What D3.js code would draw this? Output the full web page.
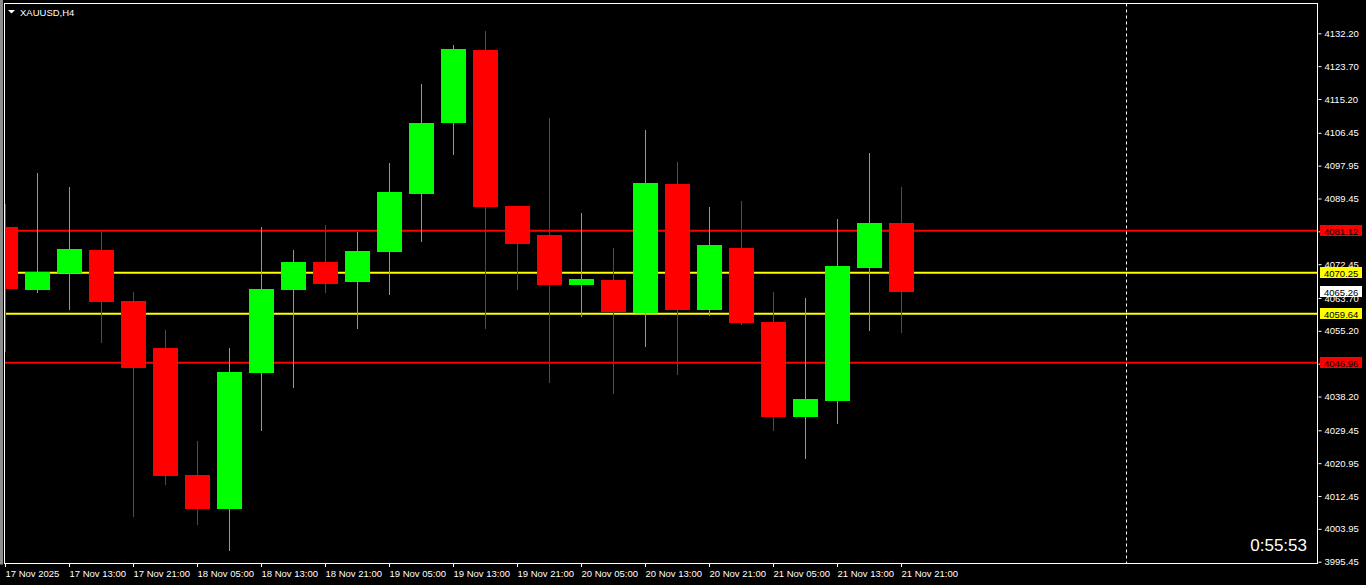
<!DOCTYPE html>
<html><head><meta charset="utf-8">
<script src="https://cdn.jsdelivr.net/npm/d3@7"></script>
<style>html,body{margin:0;padding:0;background:#000;overflow:hidden}</style>
</head><body><svg id="c" width="1366" height="585"></svg>
<script>
// ---------- DATA ----------
const symbol = "XAUUSD,H4";
const times = [
  "17 Nov 05:00","17 Nov 09:00","17 Nov 13:00","17 Nov 17:00","17 Nov 21:00",
  "18 Nov 01:00","18 Nov 05:00","18 Nov 09:00","18 Nov 13:00","18 Nov 17:00","18 Nov 21:00",
  "19 Nov 01:00","19 Nov 05:00","19 Nov 09:00","19 Nov 13:00","19 Nov 17:00","19 Nov 21:00",
  "20 Nov 01:00","20 Nov 05:00","20 Nov 09:00","20 Nov 13:00","20 Nov 17:00","20 Nov 21:00",
  "21 Nov 01:00","21 Nov 05:00","21 Nov 09:00","21 Nov 13:00","21 Nov 17:00","21 Nov 21:00"
];
const open  = [4082.07,4065.84,4070.24,4076.12,4062.92,4050.76,4017.89,4009.09,4044.36,4065.84,4073.01,4067.84,4075.68,4090.69,4109.06,4127.88,4087.51,4080.00,4067.14,4068.35,4059.89,4093.20,4060.67,4076.64,4057.48,4032.98,4037.12,4071.54,4083.11];
const high  = [4088.02,4096.05,4092.42,4081.11,4065.25,4055.41,4026.69,4050.76,4082.07,4076.12,4082.59,4080.78,4098.63,4119.08,4129.17,4132.80,4087.60,4110.28,4085.69,4076.64,4107.17,4098.89,4087.25,4088.80,4065.25,4063.70,4084.14,4101.22,4092.42];
const low   = [4049.80,4065.07,4060.67,4052.13,4007.10,4015.30,4004.95,3998.30,4029.35,4040.48,4065.07,4055.75,4064.47,4078.27,4100.78,4055.75,4065.77,4041.78,4058.86,4038.93,4051.09,4043.85,4059.12,4056.79,4029.35,4022.11,4031.16,4055.23,4054.72];
const close = [4066.03,4070.42,4076.38,4062.74,4045.66,4017.71,4009.09,4044.55,4066.03,4073.01,4067.40,4075.86,4091.13,4108.99,4128.14,4087.32,4077.67,4067.14,4068.61,4060.15,4093.46,4060.67,4077.41,4057.30,4032.98,4037.56,4071.98,4083.11,4065.26];

const priceTicks = [4132.20,4123.70,4115.20,4106.45,4097.95,4089.45,4080.95,4072.45,4063.70,4055.20,4046.70,4038.20,4029.45,4020.95,4012.45,4003.95,3995.45];
const priceMin = 3995.45, priceMax = 4132.20;

const timeTickTimes  = ["17 Nov 05:00","17 Nov 13:00","17 Nov 21:00","18 Nov 05:00","18 Nov 13:00","18 Nov 21:00","19 Nov 05:00","19 Nov 13:00","19 Nov 21:00","20 Nov 05:00","20 Nov 13:00","20 Nov 21:00","21 Nov 05:00","21 Nov 13:00","21 Nov 21:00"];
const timeTickLabels = ["17 Nov 2025","17 Nov 13:00","17 Nov 21:00","18 Nov 05:00","18 Nov 13:00","18 Nov 21:00","19 Nov 05:00","19 Nov 13:00","19 Nov 21:00","20 Nov 05:00","20 Nov 13:00","20 Nov 21:00","21 Nov 05:00","21 Nov 13:00","21 Nov 21:00"];

const levelValues = [4081.12, 4070.25, 4059.64, 4046.96];
const levelColors = ["#ff0000", "#ffff00", "#ffff00", "#ff0000"];
const bidPrice = 4065.26;
const timerText = "0:55:53";
const markerBarsAhead = 7;

// ---------- LAYOUT ----------
const W = 1366, H = 585;
const plot = {left: 4.5, right: 1317.5, top: 3.5, bottom: 563.5};
const barSpacing = 32, firstBarX = 5.5, bodyW = 25;
const FONT = "'Liberation Sans', Arial, sans-serif";

const svg = d3.select("#c");
svg.append("rect").attr("width", W).attr("height", H).attr("fill", "#000");

const n = times.length;
const x = d3.scaleLinear().domain([0, n - 1]).range([firstBarX, firstBarX + barSpacing * (n - 1)]);
const y = d3.scaleLinear().domain([priceMin, priceMax]).range([561.7, 33.3]);

svg.append("defs").append("clipPath").attr("id", "clip")
  .append("rect").attr("x", plot.left + 0.5).attr("y", plot.top + 0.5)
  .attr("width", plot.right - plot.left - 1).attr("height", plot.bottom - plot.top - 1);

const g = svg.append("g").attr("clip-path", "url(#clip)");

// horizontal level lines
g.selectAll("line.level").data(levelValues).join("line")
  .attr("x1", plot.left).attr("x2", plot.right)
  .attr("y1", d => y(d)).attr("y2", d => y(d))
  .attr("stroke", (d, i) => levelColors[i]).attr("stroke-width", 2);

// dashed marker
const mx = Math.round(x(n - 1 + markerBarsAhead)) + 0.5;
g.append("line").attr("x1", mx).attr("x2", mx).attr("y1", plot.top).attr("y2", plot.bottom)
  .attr("stroke", "#fff").attr("stroke-width", 1).attr("stroke-dasharray", "3,3");

// candles
const idx = d3.range(n);
const up = i => close[i] >= open[i];
const col = i => up(i) ? "#00ff00" : "#ff0000";
g.selectAll("line.wick").data(idx).join("line")
  .attr("x1", i => x(i)).attr("x2", i => x(i))
  .attr("y1", i => y(high[i])).attr("y2", i => y(low[i]))
  .attr("stroke", col).attr("stroke-width", 1).attr("shape-rendering", "crispEdges");
g.selectAll("rect.body").data(idx).join("rect")
  .attr("x", i => x(i) - bodyW / 2)
  .attr("width", bodyW)
  .attr("y", i => y(Math.max(open[i], close[i])))
  .attr("height", i => Math.max(1, y(Math.min(open[i], close[i])) - y(Math.max(open[i], close[i]))))
  .attr("fill", col).attr("shape-rendering", "crispEdges");

// left grey strip
svg.append("rect").attr("x", 0).attr("y", 0).attr("width", 3).attr("height", plot.bottom + 1).attr("fill", "#8c8c8c");

// plot border
svg.append("rect").attr("x", plot.left).attr("y", plot.top)
  .attr("width", plot.right - plot.left).attr("height", plot.bottom - plot.top)
  .attr("fill", "none").attr("stroke", "#fff").attr("stroke-width", 1);

// right price axis
const yAxis = d3.axisRight(y).tickValues(priceTicks).tickFormat(d3.format(".2f")).tickSize(3).tickPadding(3);
const ya = svg.append("g").attr("transform", `translate(${plot.right + 1},0)`).call(yAxis);
ya.select(".domain").remove();
ya.selectAll(".tick line").attr("stroke", "#fff");
ya.selectAll(".tick text").attr("fill", "#fff").style("font-family", FONT).style("font-size", "9.5px");

// level labels
const labelsData = levelValues.map((v, i) => ({v, bg: levelColors[i]})).concat([{v: bidPrice, bg: "#ffffff"}]);
const lg = svg.append("g");
lg.selectAll("rect").data(labelsData).join("rect")
  .attr("x", 1320).attr("width", 42)
  .attr("y", d => Math.round(y(d.v)) - 6).attr("height", 11)
  .attr("fill", d => d.bg);
lg.selectAll("text").data(labelsData).join("text")
  .attr("x", 1324).attr("y", d => Math.round(y(d.v)) + 3.5)
  .attr("fill", "#000").style("font-family", FONT).style("font-size", "9.5px")
  .text(d => d3.format(".2f")(d.v));

// bottom time axis
const tickIdx = timeTickTimes.map(t => times.indexOf(t));
const xAxis = d3.axisBottom(x).tickValues(tickIdx).tickFormat((d, i) => timeTickLabels[i]).tickSize(3).tickPadding(3);
const xa = svg.append("g").attr("transform", `translate(-0.5,${plot.bottom + 0.5})`).call(xAxis);
xa.select(".domain").remove();
xa.selectAll(".tick line").attr("stroke", "#fff");
xa.selectAll(".tick text").attr("fill", "#fff").attr("text-anchor", "start").attr("x", 0).attr("dy", "0.71em")
  .style("font-family", FONT).style("font-size", "9.5px");

// title
svg.append("path").attr("d", "M8,10 L15,10 L11.5,13.5 Z").attr("fill", "#fff");
svg.append("text").attr("x", 20).attr("y", 15.5).attr("fill", "#fff")
  .style("font-family", FONT).style("font-size", "9.5px").text(symbol);

// timer
svg.append("text").attr("x", 1307).attr("y", 551).attr("text-anchor", "end").attr("fill", "#fff")
  .style("font-family", FONT).style("font-size", "17px").text(timerText);
</script>
</body></html>
